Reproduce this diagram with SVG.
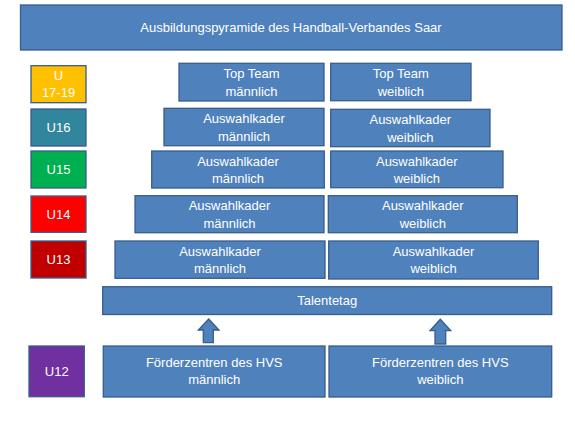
<svg xmlns="http://www.w3.org/2000/svg" width="575" height="421" viewBox="0 0 575 421">
<style>
.b{fill:#4F81BD;stroke:#385D8A;stroke-width:1.3}
.t{font-family:"Liberation Sans",Arial,sans-serif;font-size:13px;fill:#FFFFFF;text-anchor:middle}
.a{stroke:#385D8A;stroke-width:1.3}
</style>
<rect width="575" height="421" fill="#FFFFFF"/>
<g id="title"><rect class="b" x="20.5" y="5" width="541.5" height="45"/><text class="t" x="291" y="32">Ausbildungspyramide des Handball-Verbandes Saar</text></g>
<g id="u1719"><rect class="a" x="31" y="65.7" width="55" height="37" fill="#FFC000"/><text class="t" x="58.5" y="79.5">U</text><text class="t" x="58.5" y="97.3">17-19</text></g>
<g id="u16"><rect class="a" x="31" y="109" width="55" height="37" fill="#31859C"/><text class="t" x="58.5" y="132">U16</text></g>
<g id="u15"><rect class="a" x="31" y="151" width="55" height="37" fill="#00B050"/><text class="t" x="58.5" y="174">U15</text></g>
<g id="u14"><rect class="a" x="31" y="196" width="55" height="36.3" fill="#FF0000"/><text class="t" x="58.5" y="218.6">U14</text></g>
<g id="u13"><rect class="a" x="31" y="241" width="55" height="37" fill="#C00000"/><text class="t" x="58.5" y="264">U13</text></g>
<g id="u12"><rect class="a" x="29" y="346" width="55.3" height="50.7" fill="#7030A0"/><text class="t" x="56.7" y="376">U12</text></g>
<g id="tt-m"><rect class="b" x="179" y="63.3" width="145" height="37.7"/><text class="t" x="251.5" y="78.3">Top Team</text><text class="t" x="251.5" y="96">männlich</text></g>
<g id="tt-w"><rect class="b" x="330.7" y="63.3" width="140.3" height="37.4"/><text class="t" x="400.8" y="78.3">Top Team</text><text class="t" x="400.8" y="96">weiblich</text></g>
<g id="u16-m"><rect class="b" x="164" y="108.3" width="160" height="37.4"/><text class="t" x="244" y="123">Auswahlkader</text><text class="t" x="244" y="140.5">männlich</text></g>
<g id="u16-w"><rect class="b" x="330.7" y="109.3" width="159.3" height="37.4"/><text class="t" x="410.3" y="124">Auswahlkader</text><text class="t" x="410.3" y="141.5">weiblich</text></g>
<g id="u15-m"><rect class="b" x="151.7" y="151" width="172.6" height="37"/><text class="t" x="238" y="165.5">Auswahlkader</text><text class="t" x="238" y="183">männlich</text></g>
<g id="u15-w"><rect class="b" x="330.7" y="151" width="172.3" height="36.7"/><text class="t" x="416.8" y="165.5">Auswahlkader</text><text class="t" x="416.8" y="183">weiblich</text></g>
<g id="u14-m"><rect class="b" x="135" y="195.7" width="189" height="37"/><text class="t" x="229.5" y="210.3">Auswahlkader</text><text class="t" x="229.5" y="227.5">männlich</text></g>
<g id="u14-w"><rect class="b" x="328.3" y="195.7" width="189" height="37"/><text class="t" x="422.8" y="210.3">Auswahlkader</text><text class="t" x="422.8" y="227.5">weiblich</text></g>
<g id="u13-m"><rect class="b" x="115" y="241" width="210" height="37.3"/><text class="t" x="220" y="255.7">Auswahlkader</text><text class="t" x="220" y="273">männlich</text></g>
<g id="u13-w"><rect class="b" x="328.7" y="241" width="209.6" height="38"/><text class="t" x="433.5" y="256">Auswahlkader</text><text class="t" x="433.5" y="273.3">weiblich</text></g>
<g id="talentetag"><rect class="b" x="102.7" y="286.7" width="449" height="27.8"/><text class="t" x="327.2" y="305">Talentetag</text></g>
<g id="fz-m"><rect class="b" x="103.3" y="346" width="221.7" height="51"/><text class="t" x="214.2" y="367.3">Förderzentren des HVS</text><text class="t" x="214.2" y="384">männlich</text></g>
<g id="fz-w"><rect class="b" x="329" y="346" width="222.7" height="51"/><text class="t" x="440.3" y="367.3">Förderzentren des HVS</text><text class="t" x="440.3" y="384">weiblich</text></g>
<g id="connectors">
<polygon class="b" points="208.7,319 219,330 213.3,330 213.3,342.7 203.3,342.7 203.3,330 198.3,330"/>
<polygon class="b" points="440.3,319.3 450.7,330.7 445.7,330.7 445.7,344 435,344 435,330.7 430,330.7"/>
</g>
</svg>
